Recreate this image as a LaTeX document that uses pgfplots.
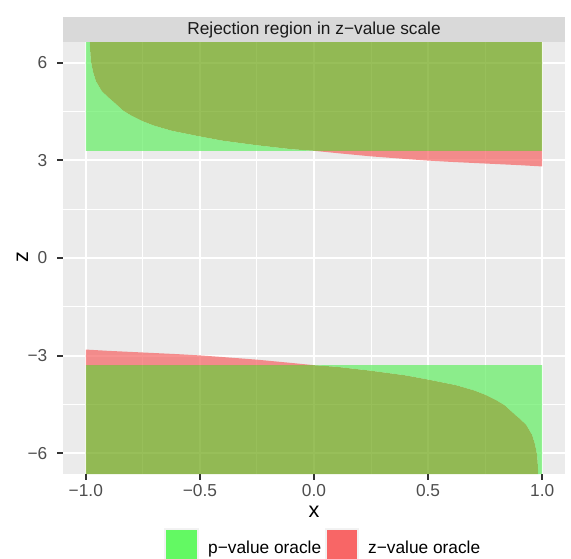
\documentclass[border=0pt]{standalone}
\usepackage{pgfplots}
\pgfplotsset{compat=1.18}
\usepackage{fontspec}
\setmainfont{Liberation Sans}
\definecolor{panelbg}{HTML}{EBEBEB}
\definecolor{stripbg}{HTML}{D9D9D9}
\definecolor{grey10}{HTML}{1A1A1A}
\definecolor{grey20}{HTML}{333333}
\definecolor{grey30}{HTML}{4D4D4D}
\definecolor{lgreen}{HTML}{63EF63}
\definecolor{lpink}{HTML}{F66363}
\definecolor{olive}{HTML}{6DA415}
\definecolor{keygreen}{HTML}{63F963}
\definecolor{keyred}{HTML}{F86666}
\definecolor{keybg}{HTML}{F2F2F2}
\newcommand{\smallfont}{\fontsize{17.3}{20}\selectfont}
\newcommand{\titlefont}{\fontsize{21.6}{24}\selectfont}
\begin{document}
\begin{tikzpicture}[x=1pt,y=1pt]
\path[use as bounding box] (0,0) rectangle (571,-558);
\fill[stripbg] (63,-42) rectangle (565,-17);
\node[font=\smallfont, text=grey10, inner sep=0pt] at (314,-30) {Rejection region in z−value scale};
\begin{axis}[
  at={(63pt,-474pt)}, anchor=south west,
  scale only axis, width=502pt, height=432pt,
  xmin=-1.1, xmax=1.1, ymin=-6.63, ymax=6.63,
  axis background/.style={fill=panelbg},
  axis line style={draw=none},
  grid=both,
  major grid style={white, line width=2pt},
  minor grid style={white, line width=1pt},
  xtick={-1,-0.5,0,0.5,1},
  xticklabels={−1.0,−0.5,0.0,0.5,1.0},
  minor xtick={-0.75,-0.25,0.25,0.75},
  ytick={-6,-3,0,3,6},
  yticklabels={−6,−3,0,3,6},
  minor ytick={-4.5,-1.5,1.5,4.5},
  tick align=outside,
  major tick length=5.5pt, minor tick length=0pt,
  xtick pos=bottom, ytick pos=left,
  major tick style={grey20, line width=2pt},
  xticklabel style={font=\smallfont, text=grey30, anchor=north, inner sep=0pt, yshift=-5pt},
  yticklabel style={font=\smallfont, text=grey30, anchor=east, inner sep=0pt, xshift=-10pt},
]
% upper region
\addplot[draw=none, fill=olive, fill opacity=0.7] coordinates {
(-0.9825,6.63) (1,6.63) (1,3.29) (0,3.29) (-0.1,3.34) (-0.25,3.46) (-0.4,3.60) (-0.5,3.73) (-0.621,3.90) (-0.7,4.06) (-0.752,4.20) (-0.8,4.37) (-0.834,4.51) (-0.883,4.82) (-0.9,4.92) (-0.93,5.12) (-0.956,5.43) (-0.968,5.70) (-0.978,6.04) (-0.981,6.37)} -- cycle;
\addplot[draw=none, fill=lgreen, fill opacity=0.7] coordinates {
(-1,6.63) (-0.9825,6.63) (-0.981,6.37) (-0.978,6.04) (-0.968,5.70) (-0.956,5.43) (-0.93,5.12) (-0.9,4.92) (-0.883,4.82) (-0.834,4.51) (-0.8,4.37) (-0.752,4.20) (-0.7,4.06) (-0.621,3.90) (-0.5,3.73) (-0.4,3.60) (-0.25,3.46) (-0.1,3.34) (0,3.29) (-1,3.29)} -- cycle;
\addplot[draw=none, fill=lpink, fill opacity=0.7] coordinates {
(0,3.29) (0.1,3.22) (0.25,3.12) (0.4,3.04) (0.5,2.99) (0.6,2.95) (0.75,2.90) (0.9,2.85) (1,2.81) (1,3.29)} -- cycle;
% lower region
\addplot[draw=none, fill=olive, fill opacity=0.7] coordinates {
(0.9825,-6.63) (-1,-6.63) (-1,-3.29) (0,-3.29) (0.1,-3.34) (0.25,-3.46) (0.4,-3.60) (0.5,-3.73) (0.621,-3.90) (0.7,-4.06) (0.752,-4.20) (0.8,-4.37) (0.834,-4.51) (0.883,-4.82) (0.9,-4.92) (0.93,-5.12) (0.956,-5.43) (0.968,-5.70) (0.978,-6.04) (0.981,-6.37)} -- cycle;
\addplot[draw=none, fill=lgreen, fill opacity=0.7] coordinates {
(1,-6.63) (0.9825,-6.63) (0.981,-6.37) (0.978,-6.04) (0.968,-5.70) (0.956,-5.43) (0.93,-5.12) (0.9,-4.92) (0.883,-4.82) (0.834,-4.51) (0.8,-4.37) (0.752,-4.20) (0.7,-4.06) (0.621,-3.90) (0.5,-3.73) (0.4,-3.60) (0.25,-3.46) (0.1,-3.34) (0,-3.29) (1,-3.29)} -- cycle;
\addplot[draw=none, fill=lpink, fill opacity=0.7] coordinates {
(0,-3.29) (-0.1,-3.22) (-0.25,-3.12) (-0.4,-3.04) (-0.5,-2.99) (-0.6,-2.95) (-0.75,-2.90) (-0.9,-2.85) (-1,-2.81) (-1,-3.29)} -- cycle;
\end{axis}
% axis titles
\node[font=\titlefont, inner sep=0pt] at (314,-512) {x};
\node[font=\titlefont, inner sep=0pt, rotate=90] at (22.5,-257) {z};
% legend
\fill[keybg] (164,-528) rectangle (199,-560);
\fill[keygreen] (166,-530) rectangle (197,-560);
\node[font=\smallfont, anchor=base west, inner sep=0pt] at (208,-553) {p−value oracle};
\fill[keybg] (325,-528) rectangle (359,-560);
\fill[keyred] (327,-530) rectangle (357,-560);
\node[font=\smallfont, anchor=base west, inner sep=0pt] at (368,-553) {z−value oracle};
\end{tikzpicture}
\end{document}
